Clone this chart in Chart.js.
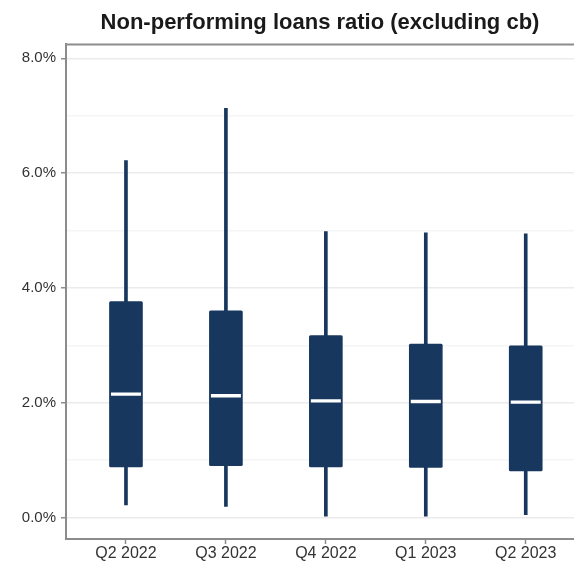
<!DOCTYPE html>
<html>
<head>
<meta charset="utf-8">
<script src="https://cdn.jsdelivr.net/npm/chart.js@4"></script>
<style>
  html, body { margin: 0; padding: 0; background: #fff; }
  canvas { display: block; }
</style>
</head>
<body>
<canvas id="nplChart" width="574" height="561"></canvas>
<script>
// Données (en %)
const trimestres = ['Q2 2022', 'Q3 2022', 'Q4 2022', 'Q1 2023', 'Q2 2023'];
const moustacheBas = [0.22, 0.19, 0.02, 0.02, 0.05];
const quartile1 = [0.88, 0.90, 0.88, 0.87, 0.81];
const mediane = [2.15, 2.12, 2.03, 2.02, 2.01];
const quartile3 = [3.76, 3.60, 3.17, 3.02, 2.99];
const moustacheHaut = [6.22, 7.13, 4.98, 4.96, 4.94];
const graduationsY = [0, 1, 2, 3, 4, 5, 6, 7, 8];

const bleu = '#17375e';
const gris = '#8c8c8c';
const police = "'Liberation Sans', Arial, sans-serif";

// trait du haut du cadre
const cadreHaut = {
    id: 'cadreHaut',
    afterDraw(chart) {
        const { ctx, chartArea } = chart;
        ctx.save();
        ctx.strokeStyle = gris;
        ctx.lineWidth = 2;
        ctx.beginPath();
        ctx.moveTo(chartArea.left - 1, chartArea.top);
        ctx.lineTo(chartArea.right, chartArea.top);
        ctx.stroke();
        ctx.restore();
    }
};

const pos = trimestres.map((t, i) => i + 1);

new Chart(document.getElementById('nplChart'), {
    type: 'bar',
    data: {
        datasets: [
            {
                label: 'moustaches',
                data: pos.map((x, i) => ({ x: x, y: [moustacheBas[i], moustacheHaut[i]] })),
                backgroundColor: bleu,
                barThickness: 3,
                grouped: false,
                order: 3
            },
            {
                label: 'boîtes',
                data: pos.map((x, i) => ({ x: x, y: [quartile1[i], quartile3[i]] })),
                backgroundColor: bleu,
                barThickness: 33,
                borderRadius: 1.5,
                borderSkipped: false,
                grouped: false,
                order: 2
            },
            {
                type: 'scatter',
                label: 'médiane',
                data: pos.map((x, i) => ({ x: x, y: mediane[i] })),
                pointStyle: 'line',
                pointRadius: 15,
                pointHoverRadius: 15,
                pointBorderWidth: 3.3,
                pointBorderColor: '#ffffff',
                borderColor: '#ffffff',
                order: 1
            }
        ]
    },
    options: {
        responsive: false,
        animation: false,
        layout: { autoPadding: false, padding: 0 },
        plugins: {
            legend: { display: false },
            tooltip: { enabled: false },
            title: {
                display: true,
                fullSize: false,
                text: 'Non-performing loans ratio (excluding cb)',
                color: '#1a1a1a',
                font: { family: police, size: 22, weight: 'bold' },
                padding: { top: 10, bottom: 8 }
            }
        },
        scales: {
            x: {
                type: 'linear',
                offset: false,
                min: 0.4,
                max: 5.483,
                afterBuildTicks: s => { s.ticks = pos.map(v => ({ value: v })); },
                afterFit: s => {
                    s.height = 22;
                    s.paddingLeft = 0;
                    s.paddingRight = 0;
                },
                ticks: {
                    padding: 0,
                    color: '#333333',
                    font: { family: police, size: 16 },
                    maxRotation: 0,
                    autoSkip: false,
                    callback: v => trimestres[v - 1]
                },
                grid: {
                    offset: false,
                    drawOnChartArea: false,
                    drawTicks: true,
                    tickLength: 5,
                    tickColor: gris,
                    tickWidth: 1.5
                },
                border: { color: gris, width: 2 }
            },
            y: {
                min: -0.376,
                max: 8.243,
                afterBuildTicks: s => { s.ticks = graduationsY.map(v => ({ value: v })); },
                afterFit: s => {
                    s.width = 66;
                    s.paddingTop = 0;
                    s.paddingBottom = 0;
                },
                ticks: {
                    padding: 5,
                    color: '#333333',
                    font: { family: police, size: 15 },
                    callback: v => (v % 2 === 0 ? v.toFixed(1) + '%' : '')
                },
                grid: {
                    color: c => (c.tick && c.tick.value % 2 === 0 ? '#ebebeb' : '#f5f5f5'),
                    lineWidth: 1.5,
                    tickLength: 5,
                    tickColor: c => (c.tick && c.tick.value % 2 === 0 ? gris : 'rgba(0,0,0,0)'),
                    tickWidth: 1.5
                },
                border: { color: gris, width: 2 }
            }
        }
    },
    plugins: [cadreHaut]
});
</script>
</body>
</html>
